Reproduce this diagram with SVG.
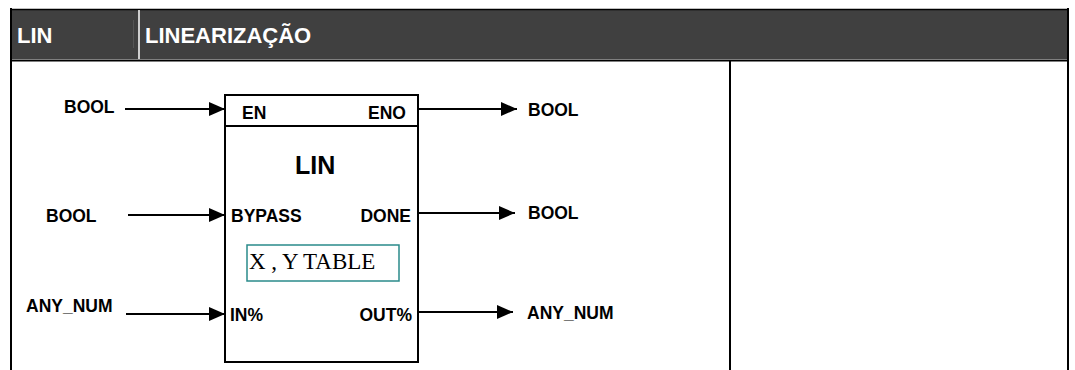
<svg xmlns="http://www.w3.org/2000/svg" width="1075" height="370" viewBox="0 0 1075 370">
<style>
.frame{stroke:#000;stroke-width:2;fill:none}
.lbl{font-family:"Liberation Sans",Arial,sans-serif;font-weight:bold;font-size:17.5px;fill:#000}
.hdr{font-family:"Liberation Sans",Arial,sans-serif;font-weight:bold;font-size:22px;fill:#fff}
.wire{stroke:#000;stroke-width:2;fill:none}
</style>
<defs>
<marker id="arr" markerUnits="userSpaceOnUse" markerWidth="16" markerHeight="14" refX="16" refY="7" orient="auto">
<path d="M0,0 L16,7 L0,14 Z" fill="#000"/>
</marker>
</defs>
<rect width="1075" height="370" fill="#fff"/>
<g id="table">
<rect x="11" y="10" width="1057" height="49" fill="#404040"/>
<line x1="10" y1="9.5" x2="1069" y2="9.5" stroke="#000" stroke-width="1.5"/>
<line x1="11" y1="8" x2="11" y2="370" class="frame"/>
<line x1="1068" y1="8" x2="1068" y2="370" class="frame"/>
<line x1="11" y1="60.5" x2="1068" y2="60.5" class="frame"/>
<line x1="139" y1="10" x2="139" y2="59" stroke="#fff" stroke-width="1.5"/>
<line x1="133.5" y1="20" x2="133.5" y2="48" stroke="#555" stroke-width="1"/>
<line x1="730" y1="60" x2="730" y2="370" class="frame"/>
<text x="17" y="43" class="hdr">LIN</text>
<text x="145" y="43" class="hdr">LINEARIZAÇÃO</text>
</g>
<g id="block">
<rect x="225" y="95" width="193" height="267" class="frame"/>
<line x1="225" y1="126" x2="418" y2="126" class="frame"/>
<text x="242" y="119" class="lbl">EN</text>
<text x="406" y="119" class="lbl" text-anchor="end">ENO</text>
<text x="295" y="174" class="lbl" style="font-size:25px">LIN</text>
<text x="231" y="222" class="lbl">BYPASS</text>
<text x="411" y="222" class="lbl" text-anchor="end">DONE</text>
<text x="230" y="321" class="lbl">IN%</text>
<text x="412" y="321" class="lbl" text-anchor="end">OUT%</text>
</g>
<g id="table-box">
<rect x="247" y="245" width="152" height="36" fill="none" stroke="#2a8a8a" stroke-width="1.5"/>
<text x="249" y="269" style="font-family:'Liberation Serif','Times New Roman',serif;font-size:23px;fill:#000">X , Y TABLE</text>
</g>
<g id="connectors">
<line x1="125" y1="109" x2="225" y2="109" class="wire" marker-end="url(#arr)"/>
<line x1="128" y1="215" x2="225" y2="215" class="wire" marker-end="url(#arr)"/>
<line x1="126" y1="314" x2="225" y2="314" class="wire" marker-end="url(#arr)"/>
<line x1="418" y1="109" x2="517" y2="109" class="wire" marker-end="url(#arr)"/>
<line x1="418" y1="213" x2="515" y2="213" class="wire" marker-end="url(#arr)"/>
<line x1="418" y1="312" x2="513" y2="312" class="wire" marker-end="url(#arr)"/>
</g>
<g id="types">
<text x="64" y="113" class="lbl">BOOL</text>
<text x="46" y="222" class="lbl">BOOL</text>
<text x="26" y="312" class="lbl">ANY_NUM</text>
<text x="528" y="116" class="lbl">BOOL</text>
<text x="528" y="219" class="lbl">BOOL</text>
<text x="527" y="319" class="lbl">ANY_NUM</text>
</g>
</svg>
